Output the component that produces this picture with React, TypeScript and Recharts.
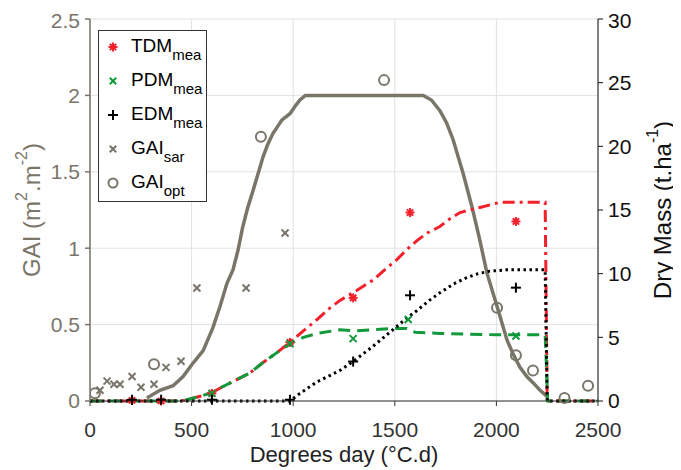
import React from "react";
import {
  ComposedChart, Line, Scatter, XAxis, YAxis, CartesianGrid, Legend, Label,
} from "recharts";

// ---------- data ----------
const xTicks = [0, 500, 1000, 1500, 2000, 2500];
const gaiTicks = [0, 0.5, 1, 1.5, 2, 2.5];
const dmTicks = [0, 5, 10, 15, 20, 25, 30];

// simulated GAI curve (left axis)
const gaiSim = [
  { x: 280, y: 0.02 }, { x: 344, y: 0.07 }, { x: 409, y: 0.1 }, { x: 458, y: 0.16 },
  { x: 508, y: 0.25 }, { x: 557, y: 0.33 }, { x: 605, y: 0.48 }, { x: 640, y: 0.62 },
  { x: 674, y: 0.77 }, { x: 704, y: 0.86 }, { x: 729, y: 0.99 }, { x: 750, y: 1.13 },
  { x: 775, y: 1.26 }, { x: 803, y: 1.38 }, { x: 830, y: 1.5 }, { x: 852, y: 1.6 },
  { x: 875, y: 1.68 }, { x: 900, y: 1.75 }, { x: 945, y: 1.84 }, { x: 984, y: 1.88 },
  { x: 1010, y: 1.93 }, { x: 1033, y: 1.97 }, { x: 1060, y: 2.0 }, { x: 1640, y: 2.0 },
  { x: 1680, y: 1.97 }, { x: 1722, y: 1.9 }, { x: 1755, y: 1.82 }, { x: 1787, y: 1.71 },
  { x: 1836, y: 1.49 }, { x: 1880, y: 1.27 }, { x: 1919, y: 1.05 }, { x: 1953, y: 0.84 },
  { x: 2003, y: 0.62 }, { x: 2052, y: 0.4 }, { x: 2085, y: 0.3 }, { x: 2116, y: 0.22 },
  { x: 2150, y: 0.16 }, { x: 2180, y: 0.12 }, { x: 2215, y: 0.07 }, { x: 2249, y: 0.03 },
];

// simulated dry masses (right axis)
const tdmSim = [
  { x: 0, y: 0 }, { x: 450, y: 0 }, { x: 500, y: 0.2 }, { x: 550, y: 0.4 }, { x: 605, y: 0.7 },
  { x: 650, y: 1.1 }, { x: 700, y: 1.5 }, { x: 787, y: 2.2 }, { x: 850, y: 3.0 }, { x: 920, y: 3.8 },
  { x: 984, y: 4.6 }, { x: 1050, y: 5.5 }, { x: 1117, y: 6.4 }, { x: 1180, y: 7.3 }, { x: 1230, y: 7.9 },
  { x: 1295, y: 8.5 }, { x: 1393, y: 9.5 }, { x: 1450, y: 10.3 }, { x: 1510, y: 11.1 }, { x: 1560, y: 11.9 },
  { x: 1609, y: 12.6 }, { x: 1660, y: 13.2 }, { x: 1722, y: 13.7 }, { x: 1770, y: 14.3 }, { x: 1821, y: 14.8 },
  { x: 1870, y: 15.0 }, { x: 1919, y: 15.2 }, { x: 2017, y: 15.6 }, { x: 2240, y: 15.6 }, { x: 2250, y: 0 },
  { x: 2500, y: 0 },
];
const pdmSim = [
  { x: 0, y: 0 }, { x: 450, y: 0 }, { x: 500, y: 0.2 }, { x: 550, y: 0.4 }, { x: 605, y: 0.7 },
  { x: 650, y: 1.1 }, { x: 700, y: 1.5 }, { x: 787, y: 2.2 }, { x: 850, y: 3.0 }, { x: 920, y: 3.8 },
  { x: 984, y: 4.5 }, { x: 1050, y: 5.0 }, { x: 1117, y: 5.3 }, { x: 1230, y: 5.6 }, { x: 1300, y: 5.5 },
  { x: 1393, y: 5.6 }, { x: 1500, y: 5.7 }, { x: 1559, y: 5.7 }, { x: 1600, y: 5.4 }, { x: 1722, y: 5.3 },
  { x: 2000, y: 5.2 }, { x: 2240, y: 5.2 }, { x: 2246, y: 2.8 }, { x: 2252, y: 0 }, { x: 2500, y: 0 },
];
const edmSim = [
  { x: 0, y: 0 }, { x: 984, y: 0 }, { x: 1033, y: 0.6 }, { x: 1117, y: 1.5 }, { x: 1180, y: 2.0 },
  { x: 1230, y: 2.4 }, { x: 1295, y: 3.1 }, { x: 1393, y: 4.3 }, { x: 1491, y: 5.6 }, { x: 1550, y: 6.4 },
  { x: 1609, y: 7.1 }, { x: 1670, y: 7.9 }, { x: 1722, y: 8.5 }, { x: 1790, y: 9.2 }, { x: 1855, y: 9.7 },
  { x: 1910, y: 10.0 }, { x: 1968, y: 10.2 }, { x: 2050, y: 10.3 }, { x: 2240, y: 10.3 }, { x: 2250, y: 0 },
  { x: 2500, y: 0 },
];

// measurements
const tdmMea = [
  { x: 207, y: 0.05 }, { x: 350, y: 0 }, { x: 600, y: 0.6 }, { x: 984, y: 4.6 },
  { x: 1295, y: 8.1 }, { x: 1575, y: 14.8 }, { x: 2096, y: 14.1 },
];
const pdmMea = [
  { x: 600, y: 0.6 }, { x: 984, y: 4.5 }, { x: 1295, y: 4.9 }, { x: 1566, y: 6.4 }, { x: 2096, y: 5.1 },
];
const edmMea = [
  { x: 207, y: 0.1 }, { x: 350, y: 0.1 }, { x: 600, y: 0.1 }, { x: 984, y: 0.1 },
  { x: 1295, y: 3.1 }, { x: 1575, y: 8.3 }, { x: 2096, y: 8.9 },
];
const gaiSar = [
  { x: 49, y: 0.07 }, { x: 84, y: 0.13 }, { x: 118, y: 0.11 }, { x: 148, y: 0.11 },
  { x: 207, y: 0.16 }, { x: 251, y: 0.09 }, { x: 315, y: 0.11 }, { x: 374, y: 0.22 },
  { x: 448, y: 0.26 }, { x: 526, y: 0.74 }, { x: 768, y: 0.74 }, { x: 960, y: 1.1 },
];
const gaiOpt = [
  { x: 24, y: 0.05 }, { x: 315, y: 0.24 }, { x: 841, y: 1.73 }, { x: 1447, y: 2.1 },
  { x: 2003, y: 0.61 }, { x: 2096, y: 0.3 }, { x: 2180, y: 0.2 }, { x: 2335, y: 0.02 }, { x: 2451, y: 0.1 },
];

// ---------- styles ----------
const FONT = "'Liberation Sans', Arial, sans-serif";
const GRAY = "#7a7569";
const RED = "#f2202a";
const GREEN = "#12993c";

// ---------- marker shapes ----------
const Asterisk = ({ cx, cy, r = 4.5 }: any) => (
  <g stroke={RED} strokeWidth={2}>
    <line x1={cx - r} y1={cy} x2={cx + r} y2={cy} />
    <line x1={cx} y1={cy - r} x2={cx} y2={cy + r} />
    <line x1={cx - r * 0.7} y1={cy - r * 0.7} x2={cx + r * 0.7} y2={cy + r * 0.7} />
    <line x1={cx - r * 0.7} y1={cy + r * 0.7} x2={cx + r * 0.7} y2={cy - r * 0.7} />
  </g>
);
const Cross = ({ cx, cy, r = 3.5, color }: any) => (
  <g stroke={color} strokeWidth={2}>
    <line x1={cx - r} y1={cy - r} x2={cx + r} y2={cy + r} />
    <line x1={cx - r} y1={cy + r} x2={cx + r} y2={cy - r} />
  </g>
);
const Plus = ({ cx, cy, r = 5 }: any) => (
  <g stroke="#000" strokeWidth={2}>
    <line x1={cx - r} y1={cy} x2={cx + r} y2={cy} />
    <line x1={cx} y1={cy - r} x2={cx} y2={cy + r} />
  </g>
);
const Ring = ({ cx, cy, r = 5 }: any) => (
  <circle cx={cx} cy={cy} r={r} fill="none" stroke={GRAY} strokeWidth={2} />
);

// ---------- legend ----------
const legendRows = [
  { main: "TDM", sub: "mea", kind: "ast" },
  { main: "PDM", sub: "mea", kind: "gx" },
  { main: "EDM", sub: "mea", kind: "plus" },
  { main: "GAI", sub: "sar", kind: "grayx" },
  { main: "GAI", sub: "opt", kind: "ring" },
];
const LegendBox = () => (
  <svg width={110} height={174} style={{ display: "block" }}>
    <rect x={0.5} y={0.5} width={108} height={171} fill="#fff" stroke="#333" strokeWidth={1} />
    {legendRows.map((r, i) => {
      const base = 22 + 34 * i;
      const my = base - 5;
      let m: any = null;
      if (r.kind === "ast") m = <Asterisk cx={15} cy={my} r={4.5} />;
      if (r.kind === "gx") m = <Cross cx={15} cy={my} r={3.2} color={GREEN} />;
      if (r.kind === "plus") m = <Plus cx={15} cy={my} r={5} />;
      if (r.kind === "grayx") m = <Cross cx={15} cy={my} r={3.2} color={GRAY} />;
      if (r.kind === "ring") m = <Ring cx={15} cy={my} r={4.5} />;
      return (
        <g key={i}>
          {m}
          <text x={33} y={base} fontFamily={FONT} fontSize={19} fill="#000">
            {r.main}
            <tspan fontSize={15} dy={8}>{r.sub}</tspan>
          </text>
        </g>
      );
    })}
  </svg>
);

// ---------- axis labels ----------
const LeftLabel = (props: any) => {
  const vb = props.viewBox || {};
  const cx = vb.x - 7;
  const cy = vb.y + vb.height / 2;
  return (
    <text x={cx} y={cy} transform={`rotate(-90, ${cx}, ${cy})`} textAnchor="middle"
      dominantBaseline="central" fontFamily={FONT} fontSize={24} fill={GRAY}>
      GAI (m<tspan fontSize={16} dy={-10}>2</tspan><tspan dy={10}>.m</tspan>
      <tspan fontSize={16} dy={-10}>-2</tspan><tspan dy={10}>)</tspan>
    </text>
  );
};
const RightLabel = (props: any) => {
  const vb = props.viewBox || {};
  const cx = vb.x + 64;
  const cy = vb.y + vb.height / 2;
  return (
    <text x={cx} y={cy} transform={`rotate(-90, ${cx}, ${cy})`} textAnchor="middle"
      dominantBaseline="central" fontFamily={FONT} fontSize={24} fill="#111">
      Dry Mass (t.ha<tspan fontSize={16} dy={-10}>-1</tspan><tspan dy={10}>)</tspan>
    </text>
  );
};
const BottomLabel = (props: any) => {
  const vb = props.viewBox || {};
  const cx = vb.x + vb.width / 2;
  return (
    <text x={cx} y={vb.y + 61} textAnchor="middle" fontFamily={FONT} fontSize={22} fill="#222">
      Degrees day (°C.d)
    </text>
  );
};

export default function App() {
  return (
    <div style={{ width: 673, height: 462 }}>
      <ComposedChart width={673} height={462} margin={{ top: 11, right: 38, bottom: 29, left: 30 }}>
        <CartesianGrid yAxisId="gai" stroke="#e2e2e2" strokeWidth={1} />
        <XAxis dataKey="x" type="number" domain={[0, 2500]} ticks={xTicks} allowDataOverflow
          height={40} tickSize={5} tickMargin={16} stroke="#333"
          tick={{ fontFamily: FONT, fontSize: 21, fill: "#333" }}>
          <Label content={BottomLabel} />
        </XAxis>
        <XAxis xAxisId="top" dataKey="x" type="number" orientation="top" domain={[0, 2500]} ticks={xTicks}
          height={0} mirror tickSize={5} tickFormatter={() => ""} stroke="#555" />
        <YAxis yAxisId="gai" type="number" domain={[0, 2.5]} ticks={gaiTicks} width={52}
          tickSize={5} tickMargin={5} stroke={GRAY} strokeWidth={1.5}
          tick={{ fontFamily: FONT, fontSize: 21, fill: GRAY }}>
          <Label content={LeftLabel} />
        </YAxis>
        <YAxis yAxisId="dm" orientation="right" type="number" domain={[0, 30]} ticks={dmTicks} width={45}
          tickSize={5} tickMargin={5} stroke="#111"
          tick={{ fontFamily: FONT, fontSize: 21, fill: "#111" }}>
          <Label content={RightLabel} />
        </YAxis>

        <Line data={gaiSim} yAxisId="gai" dataKey="y" type="linear" stroke={GRAY} strokeWidth={3.5}
          dot={false} activeDot={false} isAnimationActive={false} />
        <Line data={tdmSim} yAxisId="dm" dataKey="y" type="linear" stroke={RED} strokeWidth={3}
          strokeDasharray="12 5 3 5" dot={false} activeDot={false} isAnimationActive={false} />
        <Line data={pdmSim} yAxisId="dm" dataKey="y" type="linear" stroke={GREEN} strokeWidth={3}
          strokeDasharray="12 7" dot={false} activeDot={false} isAnimationActive={false} />
        <Line data={edmSim} yAxisId="dm" dataKey="y" type="linear" stroke="#000" strokeWidth={3}
          strokeDasharray="2.5 3.5" dot={false} activeDot={false} isAnimationActive={false} />

        <Scatter data={gaiSar} yAxisId="gai" dataKey="y" isAnimationActive={false}
          shape={(p: any) => <Cross cx={p.cx} cy={p.cy} r={3.5} color={GRAY} />} />
        <Scatter data={gaiOpt} yAxisId="gai" dataKey="y" isAnimationActive={false}
          shape={(p: any) => <Ring cx={p.cx} cy={p.cy} r={5} />} />
        <Scatter data={tdmMea} yAxisId="dm" dataKey="y" isAnimationActive={false}
          shape={(p: any) => <Asterisk cx={p.cx} cy={p.cy} r={4.5} />} />
        <Scatter data={pdmMea} yAxisId="dm" dataKey="y" isAnimationActive={false}
          shape={(p: any) => <Cross cx={p.cx} cy={p.cy} r={3.5} color={GREEN} />} />
        <Scatter data={edmMea} yAxisId="dm" dataKey="y" isAnimationActive={false}
          shape={(p: any) => <Plus cx={p.cx} cy={p.cy} r={5} />} />

        <Legend layout="vertical" align="center" verticalAlign="middle"
          wrapperStyle={{ left: 90, top: 22, width: 110, height: 174 }}
          content={() => <LegendBox />} />
      </ComposedChart>
    </div>
  );
}
